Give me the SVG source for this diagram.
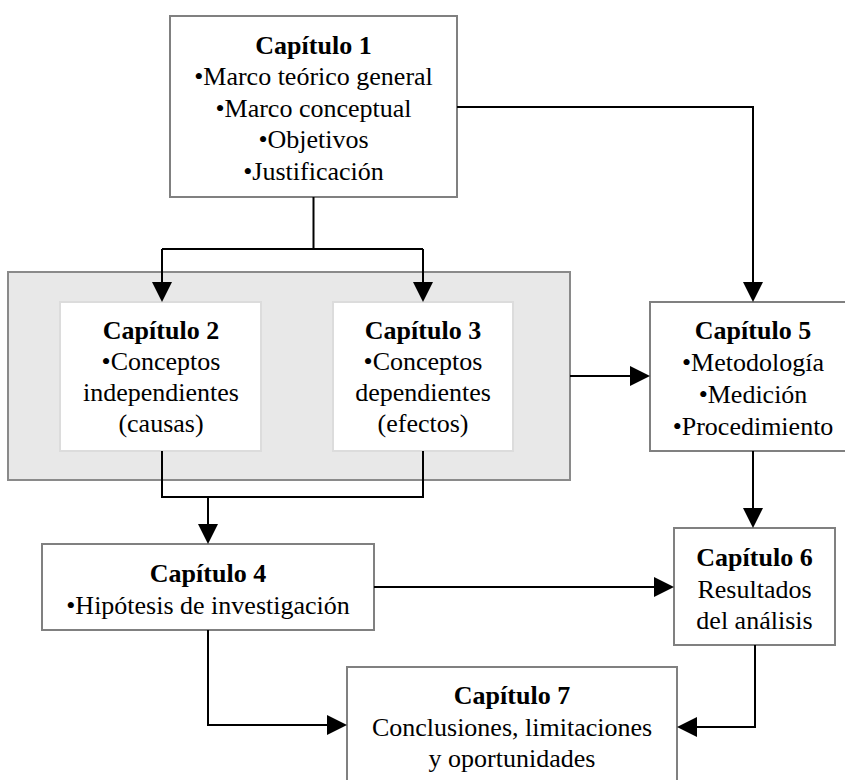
<svg xmlns="http://www.w3.org/2000/svg" width="845" height="780" viewBox="0 0 845 780">
  <style>
    .box { fill: #ffffff; stroke: #808080; stroke-width: 2; }
    .inner { fill: #ffffff; stroke: #dcdcdc; stroke-width: 2; }
    .group { fill: #e8e8e8; stroke: #8a8a8a; stroke-width: 2; }
    .conn { fill: none; stroke: #000000; stroke-width: 2; }
    text { font-family: "Liberation Serif", "Times New Roman", serif; font-size: 26px; fill: #000000; text-anchor: middle; }
    .title { font-weight: bold; }
  </style>
  <defs>
    <marker id="arrow" markerUnits="userSpaceOnUse" markerWidth="20" markerHeight="20" refX="10" refY="10" orient="auto">
      <path d="M0,0 L20,10 L0,20 Z" fill="#000000"/>
    </marker>
  </defs>
  <rect width="845" height="780" fill="#ffffff"/>

  <!-- shaded frame around chapters 2 and 3 -->
  <rect id="grupo-conceptos" class="group" x="8" y="272" width="562" height="208"/>

  <g id="capitulo-1">
    <rect class="box" x="170" y="16" width="287" height="181"/>
    <text class="title" x="313.5" y="54">Capítulo 1</text>
    <text x="313.5" y="85">•Marco teórico general</text>
    <text x="313.5" y="117">•Marco conceptual</text>
    <text x="313.5" y="148">•Objetivos</text>
    <text x="313.5" y="180">•Justificación</text>
  </g>

  <g id="capitulo-2">
    <rect class="inner" x="60" y="302" width="201" height="149"/>
    <text class="title" x="161" y="339">Capítulo 2</text>
    <text x="161" y="370">•Conceptos</text>
    <text x="161" y="401">independientes</text>
    <text x="161" y="432">(causas)</text>
  </g>

  <g id="capitulo-3">
    <rect class="inner" x="333" y="302" width="180" height="149"/>
    <text class="title" x="423" y="339">Capítulo 3</text>
    <text x="423" y="370">•Conceptos</text>
    <text x="423" y="401">dependientes</text>
    <text x="423" y="432">(efectos)</text>
  </g>

  <g id="capitulo-5">
    <rect class="box" x="650" y="302" width="206" height="149"/>
    <text class="title" x="753" y="339">Capítulo 5</text>
    <text x="753" y="371">•Metodología</text>
    <text x="753" y="403">•Medición</text>
    <text x="753" y="435">•Procedimiento</text>
  </g>

  <g id="capitulo-4">
    <rect class="box" x="42" y="544" width="332" height="86"/>
    <text class="title" x="208" y="582">Capítulo 4</text>
    <text x="208" y="614">•Hipótesis de investigación</text>
  </g>

  <g id="capitulo-6">
    <rect class="box" x="674" y="528" width="161" height="117"/>
    <text class="title" x="754.5" y="566">Capítulo 6</text>
    <text x="754.5" y="598">Resultados</text>
    <text x="754.5" y="629">del análisis</text>
  </g>

  <g id="capitulo-7">
    <rect class="box" x="347" y="667" width="330" height="140"/>
    <text class="title" x="512" y="704">Capítulo 7</text>
    <text x="512" y="736">Conclusiones, limitaciones</text>
    <text x="512" y="767">y oportunidades</text>
  </g>

  <g id="conectores">
    <path class="conn" d="M313.5,197 V249"/>
    <path class="conn" d="M162,249 H423"/>
    <path class="conn" d="M162,249 V292" marker-end="url(#arrow)"/>
    <path class="conn" d="M423,249 V292" marker-end="url(#arrow)"/>
    <path class="conn" d="M457,107 H753 V292" marker-end="url(#arrow)"/>
    <path class="conn" d="M570,376 H640" marker-end="url(#arrow)"/>
    <path class="conn" d="M162,451 V497 H423 V451"/>
    <path class="conn" d="M208,497 V534" marker-end="url(#arrow)"/>
    <path class="conn" d="M753,451 V518" marker-end="url(#arrow)"/>
    <path class="conn" d="M374,587 H664" marker-end="url(#arrow)"/>
    <path class="conn" d="M208,630 V725 H337" marker-end="url(#arrow)"/>
    <path class="conn" d="M755,645 V727 H687" marker-end="url(#arrow)"/>
  </g>
</svg>
